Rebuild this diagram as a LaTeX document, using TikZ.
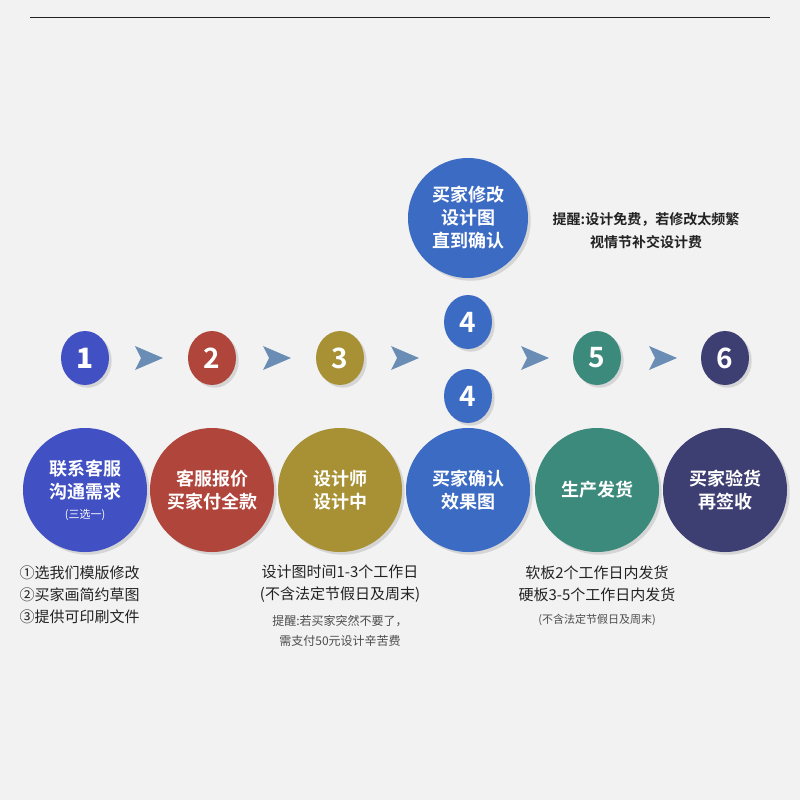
\documentclass[tikz,border=0pt]{standalone}
\usepackage{fontspec}
\setmainfont{Noto Sans CJK SC}[BoldFont={Noto Sans CJK SC Bold}]
\usetikzlibrary{shadows,shapes.geometric}
\definecolor{bg}{HTML}{F2F2F3}
\definecolor{cA}{HTML}{4150C2}
\definecolor{cB}{HTML}{B0453B}
\definecolor{cC}{HTML}{A89034}
\definecolor{cD}{HTML}{3C6BC4}
\definecolor{cE}{HTML}{3C8A7B}
\definecolor{cF}{HTML}{3D3E72}
\definecolor{arr}{HTML}{6A8DB5}
\definecolor{txt}{HTML}{222222}
\begin{document}
\begin{tikzpicture}[x=1pt,y=-1pt,
 small/.style={ellipse,fill=#1,minimum width=48pt,minimum height=54pt,inner sep=0pt,text=white,font=\bfseries\fontsize{28}{28}\selectfont,drop shadow={opacity=0.25}},
 big/.style={circle,fill=#1,minimum size=124pt,inner sep=0pt,text=white,align=center,font=\bfseries\fontsize{18}{23}\selectfont,drop shadow={opacity=0.25}},
 note/.style={align=center,text=txt,font=\fontsize{15}{22}\selectfont}]
\fill[bg] (0,0) rectangle (800,800);
\useasboundingbox (0,0) rectangle (800,800);
\draw[line width=1pt,txt] (30,18) -- (770,18);
\node[small=cA] (s1) at (85,358) {\itshape 1};
\node[small=cB] (s2) at (212,358) {2};
\node[small=cC] (s3) at (340,358) {3};
\node[small=cD] (s4a) at (468,322) {4};
\node[small=cD] (s4b) at (468,396) {4};
\node[small=cE] (s5) at (597,358) {5};
\node[small=cF] (s6) at (725,358) {6};
\foreach \x [count=\i] in {149,277,405,535,663}{
  \fill[arr] (\x-14,346) -- (\x+14,358) -- (\x-14,370) -- (\x-8,358) -- cycle;}
\node[big=cA] (b1) at (85,490) {联系客服\\沟通需求\\[-3pt]{\mdseries\fontsize{11}{13}\selectfont (三选一)}};
\node[big=cB] (b2) at (212,490) {客服报价\\买家付全款};
\node[big=cC] (b3) at (340,490) {设计师\\设计中};
\node[big=cD] (b4) at (468,490) {买家确认\\效果图};
\node[big=cE] (b5) at (597,490) {生产发货};
\node[big=cF] (b6) at (725,490) {买家验货\\再签收};
\node[big=cD,minimum size=120pt] (b4t) at (468,218) {买家修改\\设计图\\直到确认};
\node[note,font=\bfseries\fontsize{14}{23}\selectfont] (n4) at (646,231) {提醒:设计免费，若修改太频繁\\视情节补交设计费};
\node[note,align=left,anchor=north west] (n1) at (16,562) {①选我们模版修改\\②买家画简约草图\\③提供可印刷文件};
\node[note] (n3) at (340,584) {设计图时间1-3个工作日\\(不含法定节假日及周末)};
\node[note,font=\fontsize{12}{20}\selectfont,text=black!70] (n3b) at (340,631) {提醒:若买家突然不要了，\\需支付50元设计辛苦费};
\node[note] (n5) at (597,584) {软板2个工作日内发货\\硬板3-5个工作日内发货};
\node[note,font=\fontsize{11}{14}\selectfont,text=black!70] (n5b) at (597,620) {(不含法定节假日及周末)};
\end{tikzpicture}
\end{document}
